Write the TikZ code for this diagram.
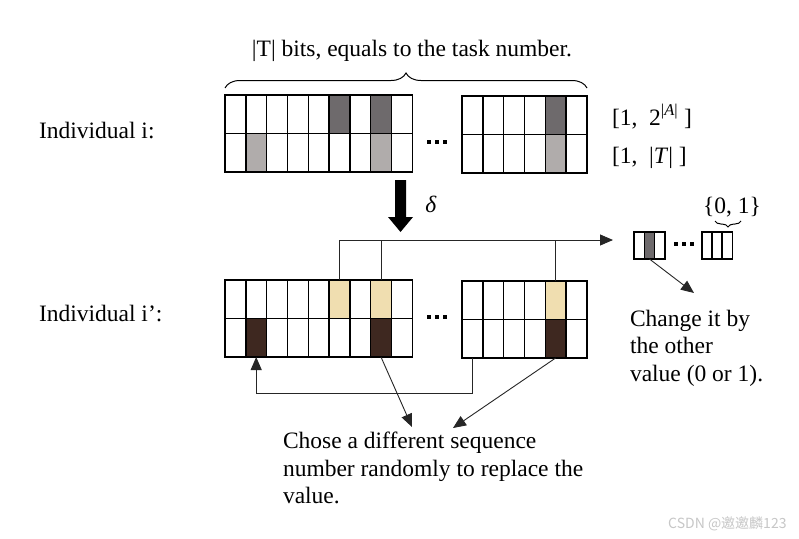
\documentclass[tikz,border=0pt]{standalone}
\usepackage{fontspec}
\setmainfont{Liberation Serif}
\newfontfamily\cjk{Noto Sans CJK SC}
\usetikzlibrary{arrows.meta,decorations.pathreplacing}
\definecolor{dg}{RGB}{110,106,108}
\definecolor{lg}{RGB}{176,172,171}
\definecolor{tan}{RGB}{240,222,176}
\definecolor{brn}{RGB}{62,40,32}
\begin{document}
\begin{tikzpicture}[x=1pt,y=-1pt,
  cell/.style={draw=black, line width=1.4pt, minimum width=20.8pt, minimum height=38.5pt, inner sep=0pt, outer sep=0pt, anchor=north west},
  scell/.style={draw=black, line width=1.3pt, minimum width=10.3pt, minimum height=27pt, inner sep=0pt, outer sep=0pt, anchor=north west},
  conn/.style={line width=0.9pt, draw=black!85},
  tipa/.style={-{Triangle[length=13pt,width=11pt]}},
  txt/.style={font=\fontsize{23.5}{27.5}\selectfont, inner sep=0pt, outer sep=0pt},
  brc/.style={line width=1pt, decorate}]
\useasboundingbox (0,0) rectangle (799,538);
\fill[white] (0,0) rectangle (799,538);

% top grids
\foreach \c/\fa/\fb in {1/white/white,2/white/lg,3/white/white,4/white/white,5/white/white,6/dg/white,7/white/white,8/dg/lg,9/white/white}{
  \node[cell,fill=\fa] (a1-\c) at ({225+(\c-1)*20.8},95) {};
  \node[cell,fill=\fb] (a2-\c) at ({225+(\c-1)*20.8},133.5) {};
}
\foreach \c/\fa/\fb in {1/white/white,2/white/white,3/white/white,4/white/white,5/dg/lg,6/white/white}{
  \node[cell,fill=\fa] (r1-\c) at ({462+(\c-1)*20.8},96) {};
  \node[cell,fill=\fb] (r2-\c) at ({462+(\c-1)*20.8},134.5) {};
}
% bottom grids
\foreach \c/\fa/\fb in {1/white/white,2/white/brn,3/white/white,4/white/white,5/white/white,6/tan/white,7/white/white,8/tan/brn,9/white/white}{
  \node[cell,fill=\fa] (b1-\c) at ({225+(\c-1)*20.8},280) {};
  \node[cell,fill=\fb] (b2-\c) at ({225+(\c-1)*20.8},318.5) {};
}
\foreach \c/\fa/\fb in {1/white/white,2/white/white,3/white/white,4/white/white,5/tan/brn,6/white/white}{
  \node[cell,fill=\fa] (c1-\c) at ({462+(\c-1)*20.8},281) {};
  \node[cell,fill=\fb] (c2-\c) at ({462+(\c-1)*20.8},319.5) {};
}
% small boxes
\foreach \c/\f in {1/white,2/dg,3/white}{
  \node[scell,fill=\f] (s1-\c) at ({634+(\c-1)*10.3},232) {};
}
\foreach \c in {1,2,3}{
  \node[scell] (s2-\c) at ({702+(\c-1)*10},232) {};
}
% dots
\foreach \x in {429,437,445}{
  \fill (\x-1.8,140.2) rectangle (\x+1.8,143.8);
  \fill (\x-1.8,315.2) rectangle (\x+1.8,318.8);
}
\foreach \x in {676,684,692}{
  \fill (\x-1.8,242.2) rectangle (\x+1.8,245.8);
}

% braces and title
\draw[brc, decoration={brace, amplitude=15pt}] (225,88) -- (587,88);
\node[txt, anchor=base] (title) at (412,56) {|T| bits, equals to the task number.};
\draw[brc, decoration={brace, amplitude=6pt}] (741,221) -- (715,221);
\node[txt, anchor=base] (set) at (732,213) {\{0, 1\}};

% labels
\node[txt, anchor=base west] (ind1) at (39,138) {Individual i:};
\node[txt, anchor=base west] (ind2) at (39,321) {Individual i’:};
\node[txt, anchor=base west] (rng1) at (612,125) {[1,~~2\textsuperscript{|\textit{A}|}~]};
\node[txt, anchor=base west] (rng2) at (612,163) {[1,~~|\textit{T}|~]};
\node[txt, anchor=base] (delta) at (431,212) {\textit{δ}};

% big arrow
\fill (395,180) -- (406,180) -- (406,217) -- (413,217) -- (400.5,232) -- (388,217) -- (395,217) -- cycle;

% connectors
\coordinate (hub) at (613,240);
\coordinate (low) at (0,393);
\draw[conn,tipa] (b1-6.north) |- (hub);
\draw[conn] (b1-8.north) -- (b1-8.north |- hub);
\draw[conn] (c1-5.north) -- (c1-5.north |- hub);
\draw[conn,tipa] (c2-1.south) -- (c2-1.south |- low) -| (b2-2.south);
\coordinate (t1) at (412,427);
\coordinate (t2) at (453,428);
\coordinate (t3) at (694,293);
\draw[conn,tipa] (b2-8.south) -- (t1);
\draw[conn,tipa] (c2-5.south) -- (t2);
\draw[conn,tipa] (s1-2.south) -- (t3);

% texts
\node[txt, anchor=north west, align=left] (chose) at (283,432) {Chose a different sequence\\number randomly to replace the\\value.};
\node[txt, anchor=north west, align=left] (change) at (630,310) {Change it by\\the other\\value (0 or 1).};

\node[font=\cjk\fontsize{14}{14}\selectfont, text=black!22, anchor=base west, inner sep=0pt] (wm) at (668,528) {CSDN @邀邀麟123};
\end{tikzpicture}
\end{document}
